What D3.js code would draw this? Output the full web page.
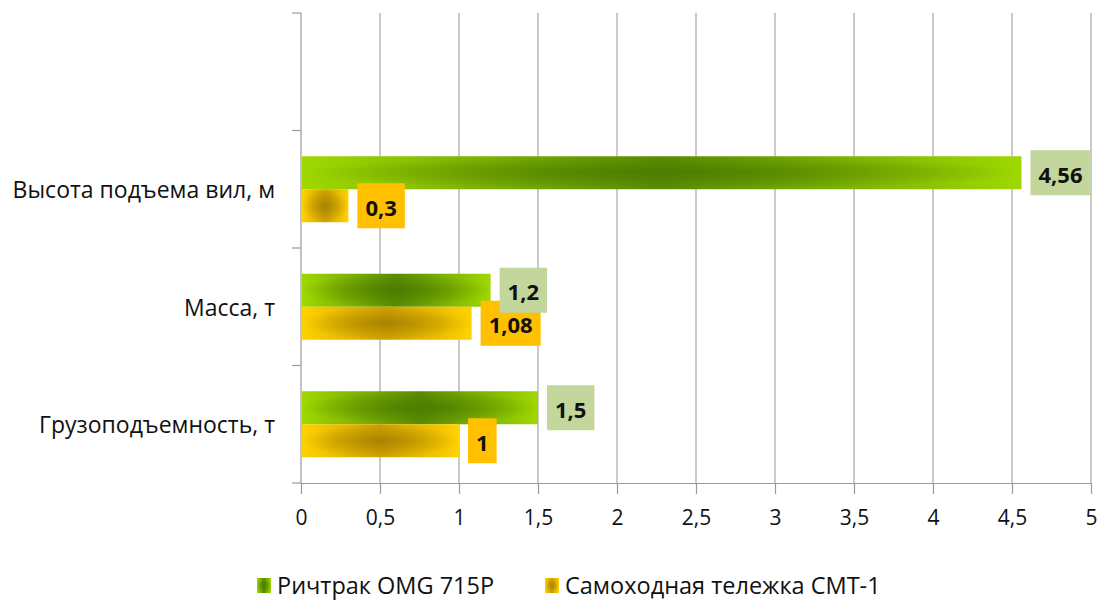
<!DOCTYPE html>
<html><head><meta charset="utf-8">
<script src="https://cdn.jsdelivr.net/npm/d3@7"></script>
<style>
body{margin:0;background:#fff;}
text{font-family:"Open Sans","Noto Sans",sans-serif;}
</style></head>
<body><svg id="c" width="1106" height="602"></svg>
<script>
const categories = ["Грузоподъемность, т", "Масса, т", "Высота подъема вил, м", ""];
const seriesNames = ["Ричтрак OMG 715P", "Самоходная тележка СМТ-1"];
const richtrak = [1.5, 1.2, 4.56, null];
const telezhka = [1, 1.08, 0.3, null];
const labelsRichtrak = ["1,5", "1,2", "4,56", ""];
const labelsTelezhka = ["1", "1,08", "0,3", ""];
const xTicks = [0,0.5,1,1.5,2,2.5,3,3.5,4,4.5,5];
const xTickLabels = ["0","0,5","1","1,5","2","2,5","3","3,5","4","4,5","5"];

const svg = d3.select("#c");
const pL = 301, pR = 1091, pT = 13, pB = 483;
const x = d3.scaleLinear().domain([0,5]).range([pL,pR]);
const y = d3.scaleBand().domain(categories.map((d,i)=>i)).range([pB, pT]).paddingInner(0).paddingOuter(0);
const inner = d3.scaleBand().domain([0,1]).range([0, y.bandwidth()]).paddingOuter(0.78).paddingInner(0);

const defs = svg.append("defs");
function grad(id, edge, mid){
  const g = defs.append("linearGradient").attr("id", id).attr("x1","0").attr("x2","1").attr("y1","0").attr("y2","0");
  g.append("stop").attr("offset","0%").attr("stop-color", edge);
  g.append("stop").attr("offset","50%").attr("stop-color", mid);
  g.append("stop").attr("offset","100%").attr("stop-color", edge);
}
grad("gGreen", "#9fd800", "#5a8c00");
grad("gYellow", "#ffd200", "#d0a200");
const darkGreen = "#4a7800", darkYellow = "#a07c00";

// gridlines
svg.append("g").selectAll("line").data(xTicks.slice(1)).join("line")
  .attr("x1", d=>x(d)).attr("x2", d=>x(d)).attr("y1", pT).attr("y2", pB)
  .attr("stroke", "#a6a6a6").attr("stroke-width", 1.2);

// x axis
const xAxis = svg.append("g").attr("transform", `translate(0,${pB})`)
  .call(d3.axisBottom(x).tickValues(xTicks).tickFormat((d,i)=>xTickLabels[i]).tickSize(11).tickSizeOuter(0).tickPadding(16));
xAxis.select(".domain").attr("stroke","#999").attr("stroke-width",1.2);
xAxis.selectAll(".tick line").attr("stroke","#999").attr("stroke-width",1.2);
xAxis.selectAll("text").attr("font-size", 21).attr("fill","#111").attr("font-family",null);

// y axis
const yTickPos = d3.range(categories.length+1).map(i => pB - i*y.bandwidth());
svg.append("line").attr("x1",pL).attr("x2",pL).attr("y1",pT).attr("y2",pB).attr("stroke","#999").attr("stroke-width",1.2);
svg.append("g").selectAll("line").data(yTickPos).join("line")
  .attr("x1", pL-9).attr("x2", pL).attr("y1", d=>d).attr("y2", d=>d).attr("stroke","#999").attr("stroke-width",1.2);
svg.append("g").selectAll("text").data(categories).join("text")
  .attr("x", 275).attr("y", (d,i)=>y(i)+y.bandwidth()/2).attr("text-anchor","end").attr("dominant-baseline","central")
  .attr("font-size", 23).attr("fill","#111").text(d=>d);

// bars
const series = [
  {vals: richtrak, labels: labelsRichtrak, fill: "url(#gGreen)", spot: darkGreen, box: "#c3d69b", k:0},
  {vals: telezhka, labels: labelsTelezhka, fill: "url(#gYellow)", spot: darkYellow, box: "#ffc000", k:1}
];
const barLayer = svg.append("g"), labLayerY = svg.append("g"), labLayerG = svg.append("g");
series.forEach(s => {
  const g = barLayer.append("g");
  const data = s.vals.map((v,i)=>({v,i,l:s.labels[i]})).filter(d=>d.v!=null);
  const rg = defs.append("radialGradient").attr("id","spot"+s.k).attr("cx","0.5").attr("cy","0.5").attr("r","0.5");
  rg.append("stop").attr("offset","0%").attr("stop-color", s.spot).attr("stop-opacity",0.8);
  rg.append("stop").attr("offset","100%").attr("stop-color", s.spot).attr("stop-opacity",0);
  g.selectAll("rect.bar").data(data).join("rect").attr("class","bar")
    .attr("x", x(0)+1).attr("y", d=>y(d.i)+inner(s.k))
    .attr("width", d=>x(d.v)-x(0)-1).attr("height", inner.bandwidth())
    .attr("fill", s.fill);
  g.selectAll("rect.spot").data(data).join("rect").attr("class","spot")
    .attr("x", x(0)+1).attr("y", d=>y(d.i)+inner(s.k))
    .attr("width", d=>x(d.v)-x(0)-1).attr("height", inner.bandwidth())
    .attr("fill", "url(#spot"+s.k+")");
  const lg = (s.k === 0 ? labLayerG : labLayerY);
  const lab = lg.selectAll("g.lab").data(data).join("g").attr("class","lab")
    .attr("transform", d=>`translate(${x(d.v)+9},${y(d.i)+inner(s.k)+inner.bandwidth()/2})`);
  lab.append("text").attr("font-size", 22).attr("font-weight","bold").attr("fill","#111")
    .attr("dominant-baseline","central").attr("x", 8).attr("y", 1).text(d=>d.l);
  lab.each(function(){
    const t = d3.select(this).select("text");
    const w = t.node().getComputedTextLength();
    d3.select(this).insert("rect","text").attr("x",0).attr("y",-22.5).attr("width", w+16).attr("height",45).attr("fill", s.box);
  });
});

// legend
const legend = svg.append("g").attr("transform","translate(0,585)");
const items = [{x:257, k:0, fill:"url(#gGreen)", name:seriesNames[0]},{x:545, k:1, fill:"url(#gYellow)", name:seriesNames[1]}];
items.forEach(it=>{
  legend.append("rect").attr("x", it.x).attr("y",-7).attr("width",14).attr("height",15).attr("fill", it.fill);
  legend.append("rect").attr("x", it.x).attr("y",-7).attr("width",14).attr("height",15).attr("fill", "url(#spot"+it.k+")");
  legend.append("text").attr("x", it.x+20).attr("y",0).attr("dominant-baseline","central").attr("font-size",23.5).attr("fill","#111").text(it.name);
});
</script></body></html>
